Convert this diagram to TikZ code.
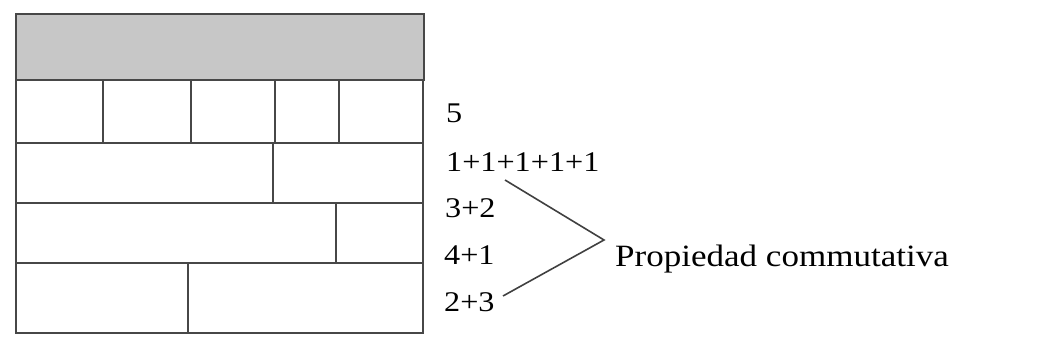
\documentclass[tikz,border=0pt]{standalone}
\usepackage{fontspec}
\setmainfont[FakeStretch=1.13]{Liberation Serif}
\usetikzlibrary{positioning}
\tikzset{
  wall/.style={draw=black!72, line width=1.8pt},
  sum/.style={anchor=base west, inner sep=0pt, font=\fontsize{28.5}{30}\selectfont},
  prop/.style={anchor=base west, inner sep=0pt, font=\fontsize{31}{34}\selectfont}
}
\begin{document}
\begin{tikzpicture}[x=1pt,y=-1pt]
	\useasboundingbox (0,0) rectangle (1050,352);

	% the wall
	\draw[wall, fill=black!22] (16,14) rectangle (424,80);
	\draw[wall] (16,80) rectangle (423,333);
	\foreach \y in {143,203,263}
		\draw[wall] (16,\y) -- (423,\y);
	\foreach \x in {103,191,275,339}
		\draw[wall] (\x,80) -- (\x,143);
	\draw[wall] (273,143) -- (273,203);
	\draw[wall] (336,203) -- (336,263);
	\draw[wall] (188,263) -- (188,333);

	% the sums
	\node[sum] (Five)  at (446,123) {5};
	\node[sum] (Ones)  at (446,172) {1+1+1+1+1};
	\node[sum] (ThreeTwo) at (445,218) {3+2};
	\node[sum] (FourOne)  at (444,265) {4+1};
	\node[sum] (TwoThree) at (444,312) {2+3};

	\node[prop] (Prop) at (615,267) {Propiedad commutativa};

	\coordinate (BraceTop) at (505,180);
	\coordinate (BraceTip) at (604,240);
	\coordinate (BraceBot) at (503,296);
	\draw[black!75, line width=1.6pt] (BraceTop) -- (BraceTip) -- (BraceBot);
\end{tikzpicture}
\end{document}
